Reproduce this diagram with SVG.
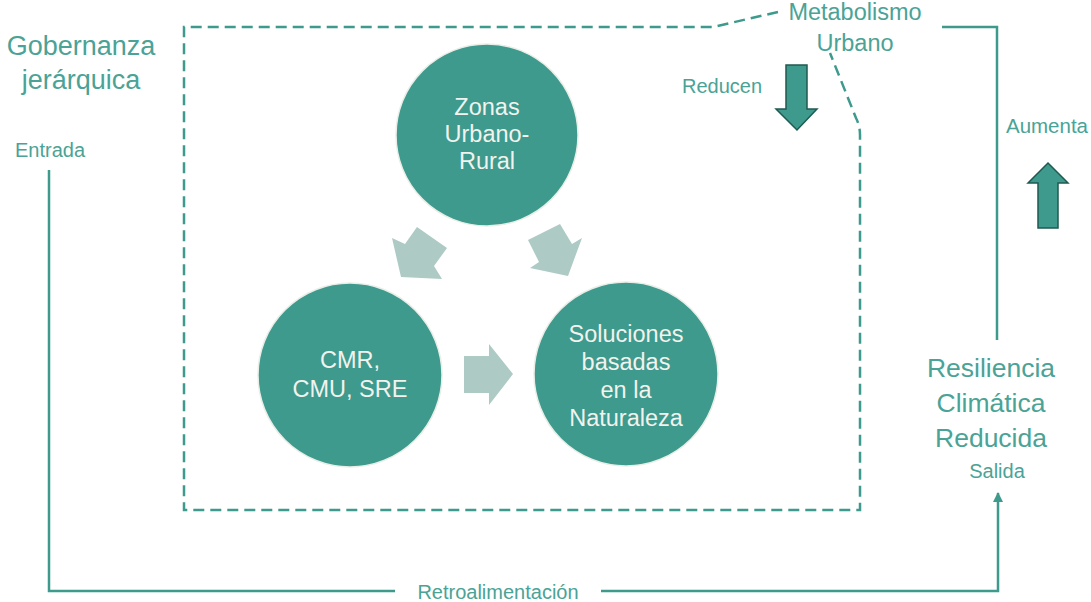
<svg xmlns="http://www.w3.org/2000/svg" width="1091" height="602" viewBox="0 0 1091 602">
  <style>
    .lbl { font-family: "Liberation Sans", Arial, sans-serif; fill: #4aa396; text-anchor: middle; }
    .ctext { font-family: "Liberation Sans", Arial, sans-serif; fill: #f2f2ee; text-anchor: middle; font-size: 23.5px; }
    .circ { fill: #3d9a8c; stroke: #eaeee8; stroke-width: 1.5; }
    .flow { fill: #aecac5; }
    .dark { fill: #3d9a8c; stroke: #1f5a50; stroke-width: 1.5; }
    .solid { fill: none; stroke: #3d9a8c; stroke-width: 2.5; }
    .dash { fill: none; stroke: #3d9a8c; stroke-width: 2.5; stroke-dasharray: 11 6; }
  </style>
  <defs>
    <marker id="ah" viewBox="0 0 10 10" refX="9" refY="5" markerWidth="4" markerHeight="4" orient="auto">
      <path d="M0,0 L10,5 L0,10 z" fill="#3d9a8c"/>
    </marker>
  </defs>
  <rect width="1091" height="602" fill="#ffffff"/>

  <g id="connectors">
    <path class="dash" d="M778,12 L713,27 L184,27 L184,510 L860,510 L860,135 Q860,126 856,118 L830,53"/>
    <path class="solid" d="M942,27 L997,27 L997,340"/>
    <path class="solid" d="M49,170 L49,591 L395,591"/>
    <path class="solid" d="M601,591 L998,591 L998,493" marker-end="url(#ah)"/>
    <polygon class="flow" points="417,227 447,248 434,266 442,279 401,277 392,238 405,244"/>
    <polygon class="flow" points="528,240 560,224 572,244 582,238 568,276 530,268 539,262"/>
    <polygon class="flow" points="464,356 489,356 489,344 513,374 489,405 489,393 464,393"/>
    <polygon class="dark" points="786,65 807,65 807,109 817,109 797,130 776,109 786,109"/>
    <polygon class="dark" points="1038,228 1058,228 1058,183 1068,183 1048,163 1028,183 1038,183"/>
    <text class="lbl" x="722" y="93" font-size="20">Reducen</text>
    <text class="lbl" x="1047" y="133" font-size="20.5">Aumenta</text>
    <text class="lbl" x="498" y="599" font-size="20">Retroalimentación</text>
  </g>

  <g id="node-zonas">
    <circle class="circ" cx="487" cy="135" r="91"/>
    <text class="ctext" x="487" y="115">Zonas</text>
    <text class="ctext" x="487" y="142">Urbano-</text>
    <text class="ctext" x="487" y="169">Rural</text>
  </g>
  <g id="node-cmr">
    <circle class="circ" cx="350" cy="375" r="92"/>
    <text class="ctext" x="350" y="368">CMR,</text>
    <text class="ctext" x="350" y="397">CMU, SRE</text>
  </g>
  <g id="node-soluciones">
    <circle class="circ" cx="626" cy="374" r="92"/>
    <text class="ctext" x="626" y="342">Soluciones</text>
    <text class="ctext" x="626" y="370">basadas</text>
    <text class="ctext" x="626" y="398">en la</text>
    <text class="ctext" x="626" y="426">Naturaleza</text>
  </g>
  <g id="node-gobernanza">
    <text class="lbl" x="81" y="55" font-size="27">Gobernanza</text>
    <text class="lbl" x="81" y="89" font-size="27">jerárquica</text>
    <text class="lbl" x="50" y="157" font-size="20">Entrada</text>
  </g>
  <g id="node-metabolismo">
    <text class="lbl" x="855" y="20" font-size="23.5">Metabolismo</text>
    <text class="lbl" x="855" y="51" font-size="23.5">Urbano</text>
  </g>
  <g id="node-resiliencia">
    <text class="lbl" x="991" y="377" font-size="26.5">Resiliencia</text>
    <text class="lbl" x="991" y="412" font-size="26.5">Climática</text>
    <text class="lbl" x="991" y="447" font-size="26.5">Reducida</text>
    <text class="lbl" x="997" y="478" font-size="20">Salida</text>
  </g>
</svg>
